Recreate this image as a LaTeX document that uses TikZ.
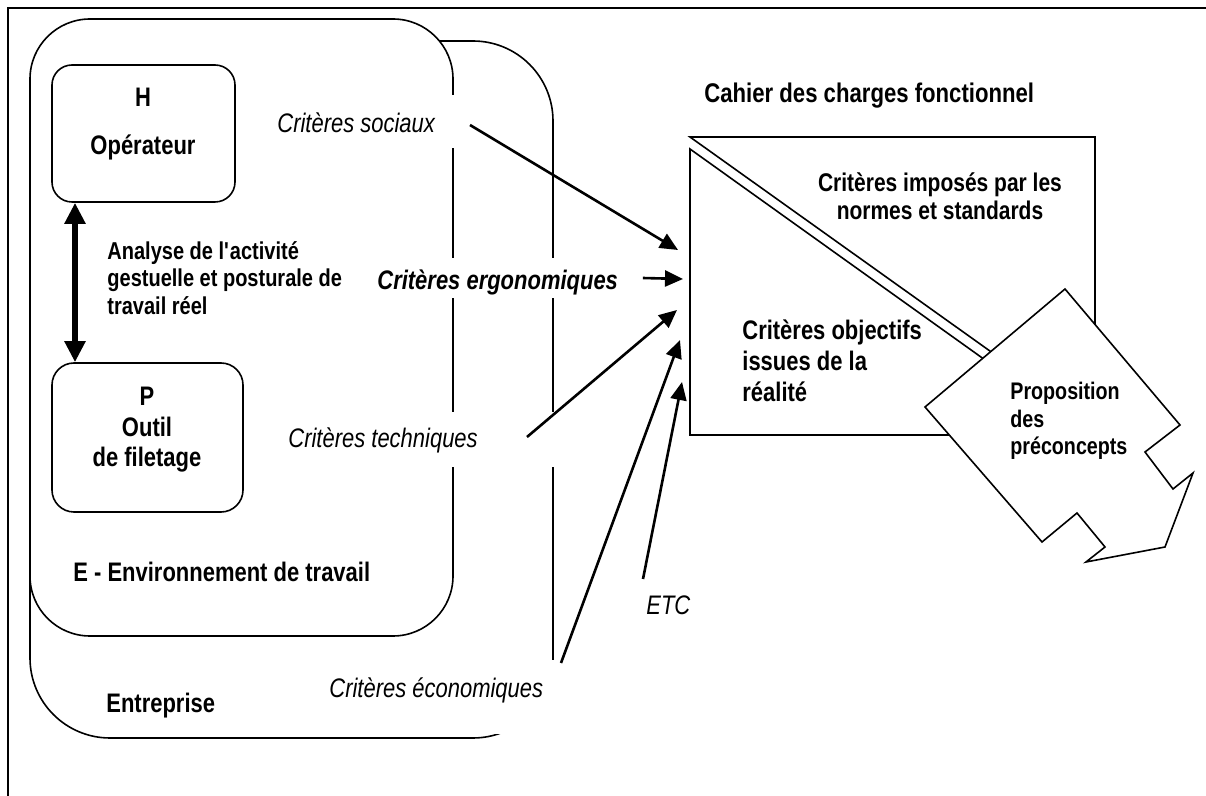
\documentclass[tikz,border=0pt]{standalone}
\usepackage{fontspec}
\setmainfont{Liberation Sans}[FakeStretch=0.82]
\usetikzlibrary{arrows.meta}

\tikzset{
  box/.style={draw, line width=0.8pt, rounded corners=10pt, fill=white},
  txt/.style={font=\fontsize{13.4}{15}\selectfont\bfseries, inner sep=0pt},
  crit/.style={font=\fontsize{13.4}{15}\selectfont\itshape, fill=white,
    inner xsep=3.5pt, inner ysep=0pt, anchor=base west, align=flush left},
  critarrow/.style={-{Triangle[length=9pt,width=8pt]}, line width=1.3pt},
  dblarrow/.style={{Triangle[length=10.5pt,width=10pt]}-{Triangle[length=10.5pt,width=10pt]},
    line width=3pt}
}

\begin{document}
\begin{tikzpicture}[x=0.5pt, y=-0.5pt]
  % Canvas and frame
  \useasboundingbox (0,0) rectangle (1206,796);
  \fill[white] (0,0) rectangle (1206,796);
  \draw[line width=1.1pt] (8,796) -- (8,8) -- (1206,8);
  % Entreprise and environnement
  \draw[line width=0.8pt, fill=white, rounded corners=40pt] (30,41) rectangle (553,738);
  \draw[line width=0.8pt, fill=white, rounded corners=30pt] (30,19) rectangle (453,636);
  % Homme and produit
  \node[box, minimum width=91.5pt, minimum height=68.5pt] (H) at (143.5,133.5) {};
  \node[box, minimum width=95.5pt, minimum height=74.5pt, rounded corners=11pt] (P) at (147.5,437.5) {};
  \node[txt, align=center] (Htxt) at (143,124) {H\\[9pt]Opérateur};
  \node[txt, align=center, font=\fontsize{13.4}{15.25}\selectfont\bfseries] (Ptxt) at (147,430) {P\\Outil\\de filetage};
  \coordinate (ax) at (75,0);
  \draw[dblarrow] (H.south -| ax) -- (P.north -| ax);
  \node[txt, align=flush left, anchor=west, font=\fontsize{12.2}{13.75}\selectfont\bfseries] (ana) at (107,278)
    {Analyse de l\textquotesingle activité\\gestuelle et posturale de\\travail réel};
  \node[txt, anchor=base west] (env) at (73,582) {E - Environnement de travail};
  \node[txt, anchor=base west] (entr) at (106,712) {Entreprise};
  % Criteres labels
  \node[crit, text width=90.5pt, text height=18.75pt, text depth=7.75pt] (soc) at (270,132.5) {Critères sociaux};
  \node[crit, font=\fontsize{13.4}{15}\selectfont\bfseries\itshape, text width=124pt,
    text height=15.75pt, text depth=4.25pt] (ergo) at (370,289.5) {Critères ergonomiques};
  \node[crit, text width=135.5pt, text height=17.75pt, text depth=9.75pt] (tech) at (281,447.5) {Critères techniques};
  \node[crit, text width=112pt, text height=18.75pt, text depth=18.25pt] (eco) at (322,697.5) {Critères économiques};
  \node[crit, fill=none, inner xsep=0pt] (etc) at (646,615) {ETC};
  % Cahier des charges
  \node[txt, anchor=base west, font=\fontsize{13.5}{15}\selectfont\bfseries] (cdc) at (704,103) {Cahier des charges fonctionnel};
  \draw[line width=0.8pt] (690,137) -- (1095,137) -- (1095,426) -- cycle;
  \draw[line width=0.8pt] (690,149) -- (690,435) -- (1090,435) -- cycle;
  \node[txt, align=center, font=\fontsize{12.8}{14}\selectfont\bfseries] (norm) at (940,196) {Critères imposés par les\\normes et standards};
  \node[txt, align=flush left, anchor=west, font=\fontsize{13.4}{15.5}\selectfont\bfseries] (obj) at (742,361)
    {Critères objectifs\\issues de la\\réalité};
  % Proposition arrow
  \draw[line width=0.8pt, fill=white] (1065,289) -- (1180,425) -- (1145,452) -- (1173,489)
    -- (1193,473) -- (1165,547) -- (1086,562) -- (1105,547) -- (1077,513) -- (1042,542)
    -- (925,407) -- cycle;
  \node[txt, align=flush left, anchor=west, font=\fontsize{12}{13.75}\selectfont\bfseries] (prop) at (1010,421)
    {Proposition\\des\\préconcepts};
  % Draw arrows
  \coordinate (s1) at (470,125); \coordinate (t1) at (678,250);
  \coordinate (t2) at (683,279);
  \coordinate (s3) at (527,437); \coordinate (t3) at (677,310);
  \coordinate (s4) at (561,663); \coordinate (t4) at (680,340);
  \coordinate (s5) at (643,579); \coordinate (t5) at (682,382);
  \draw[critarrow] (s1) -- (t1);
  \draw[critarrow] ([xshift=5pt]ergo.east) -- (t2);
  \draw[critarrow] (s3) -- (t3);
  \draw[critarrow] (s4) -- (t4);
  \draw[critarrow] (s5) -- (t5);
\end{tikzpicture}
\end{document}
